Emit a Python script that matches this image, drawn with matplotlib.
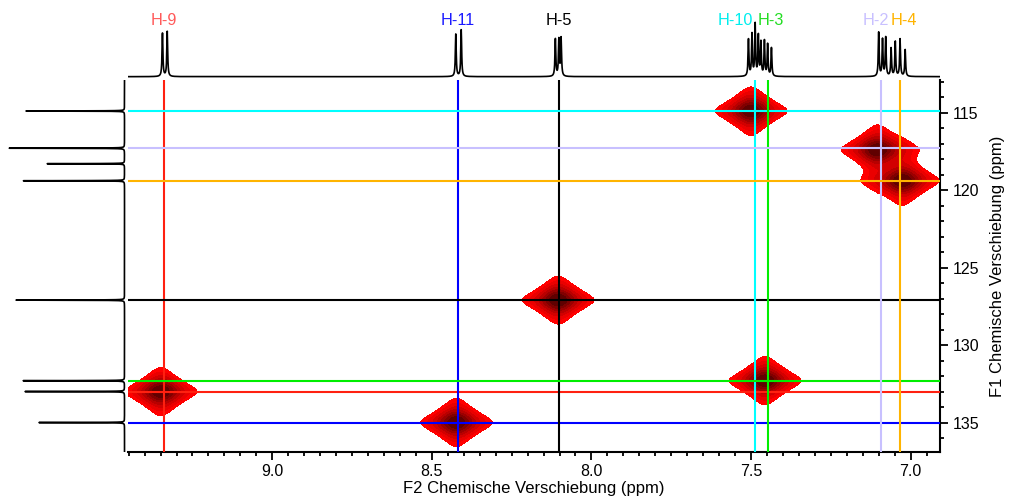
import numpy as np
import matplotlib
matplotlib.use("Agg")
import matplotlib.pyplot as plt
from matplotlib.ticker import MultipleLocator, FormatStrFormatter

plt.rcParams['font.family'] = ['Liberation Sans', 'DejaVu Sans']

# assignments: label, 1H shift (ppm), 13C shift (ppm), colour of the guide lines
labels = ["H-9", "H-11", "H-5", "H-10", "H-3", "H-2", "H-4"]
h_shift = [9.339, 8.419, 8.102, 7.487, 7.448, 7.093, 7.034]
c_shift = [133.0, 135.0, 127.1, 114.9, 132.3, 117.3, 119.4]
line_colors = ["#ff2010", "#0000ff", "#000000", "#00ffff", "#00ee00", "#c8c0ff", "#ffb400"]
label_colors = ["#ff5a5a", "#1a1aff", "#000000", "#00eeee", "#22dd22", "#c8c0ff", "#ffb400"]

# centres of the HSQC cross peaks
peak_h = [9.349, 8.423, 8.104, 7.500, 7.456, 7.104, 7.025]
peak_c = [133.0, 135.0, 127.1, 114.9, 132.3, 117.4, 119.4]

# 1H spectrum lines (ppm, relative height)
h_lines = [9.344, 9.329, 8.425, 8.408, 8.113, 8.102, 8.095,
           7.508, 7.497, 7.487, 7.477, 7.469, 7.458, 7.448, 7.436,
           7.100, 7.088, 7.078, 7.061, 7.048, 7.033, 7.017]
h_heights = [0.65, 0.675, 0.635, 0.70, 0.56, 0.55, 0.57,
             0.55, 0.625, 0.775, 0.60, 0.50, 0.525, 0.475, 0.425,
             0.66, 0.55, 0.58, 0.42, 0.52, 0.56, 0.40]

# 13C projection lines
c_lines = [114.9, 117.3, 118.3, 119.4, 127.1, 132.3, 133.0, 135.0]
c_heights = [0.849, 0.995, 0.668, 0.875, 0.944, 0.875, 0.858, 0.737]

XLIM = (9.452, 6.908)
YLIM = (136.9, 112.9)


def lorentz(x, x0, w):
    return 1.0 / (1.0 + ((x - x0) / w) ** 2)


def pvoigt(x, x0, w, eta=0.8):
    g = np.exp(-np.log(2) * ((x - x0) / w) ** 2)
    return eta * lorentz(x, x0, w) + (1 - eta) * g


fig = plt.figure(figsize=(10.09, 5.0), dpi=100)
ax = fig.add_axes([128 / 1009, 0.096, 812 / 1009, 0.744])
ax_top = fig.add_axes([128 / 1009, 0.84, 812 / 1009, 0.14])
ax_left = fig.add_axes([5 / 1009, 0.096, 123 / 1009, 0.744])

# 2D contour plot
xx = np.linspace(XLIM[1], XLIM[0], 1200)
yy = np.linspace(YLIM[1], YLIM[0], 700)
X, Y = np.meshgrid(xx, yy)
Z = np.zeros_like(X)
for ph, pc in zip(peak_h, peak_c):
    Z += pvoigt(X, ph, 0.042) * pvoigt(Y, pc, 0.58)
levels = [0.1, 0.15, 0.22, 0.31, 0.42, 0.55, 0.72, 100]
reds = ["#ff0000", "#ea0000", "#d20000", "#b80000", "#9c0000", "#800000", "#600000"]
ax.contourf(X, Y, Z, levels=levels, colors=reds, zorder=1)

for h, c, col in zip(h_shift, c_shift, line_colors):
    ax.axvline(h, color=col, lw=1.5, zorder=3)
    ax.axhline(c, color=col, lw=1.5, zorder=3)

ax.set_xlim(*XLIM)
ax.set_ylim(*YLIM)
ax.spines['top'].set_visible(False)
ax.spines['left'].set_visible(False)
ax.spines['bottom'].set_linewidth(1.5)
ax.spines['right'].set_linewidth(1.5)
ax.yaxis.tick_right()
ax.yaxis.set_label_position("right")
ax.xaxis.set_major_locator(MultipleLocator(0.5))
ax.xaxis.set_minor_locator(MultipleLocator(0.05))
ax.xaxis.set_major_formatter(FormatStrFormatter('%.1f'))
ax.yaxis.set_major_locator(MultipleLocator(5))
ax.yaxis.set_minor_locator(MultipleLocator(1))
ax.tick_params(which='major', direction='out', length=6, width=1.3, labelsize=11.5, pad=3)
ax.tick_params(which='minor', direction='out', length=3, width=1.3)
ax.set_xlabel("F2 Chemische Verschiebung (ppm)", fontsize=12, labelpad=1)
ax.set_ylabel("F1 Chemische Verschiebung (ppm)", fontsize=12, labelpad=8)

# 1H projection on top
hx = np.linspace(XLIM[1], XLIM[0], 12000)
hspec = np.zeros_like(hx)
for p, a in zip(h_lines, h_heights):
    hspec += a * lorentz(hx, p, 0.0016)
ax_top.plot(hx, hspec, color='black', lw=1.2)
ax_top.set_xlim(*XLIM)
ax_top.set_ylim(-0.05, 1.0)
ax_top.axis('off')
label_shift = [0.0, 0.0, 0.0, 0.063, -0.011, 0.017, -0.014]
for lab, h, dx, col in zip(labels, h_shift, label_shift, label_colors):
    ax_top.text(h + dx, 0.857, lab, color=col, fontsize=11.7, ha='center', va='center',
                transform=ax_top.get_xaxis_transform(), clip_on=False)

# 13C projection on the left
cy = np.linspace(YLIM[1], YLIM[0], 12000)
cspec = np.zeros_like(cy)
for p, a in zip(c_lines, c_heights):
    cspec += a * lorentz(cy, p, 0.008)
ax_left.plot(cspec, cy, color='black', lw=1.2)
ax_left.set_xlim(1.03, -0.03)
ax_left.set_ylim(*YLIM)
ax_left.axis('off')

fig.savefig("out.png", dpi=100)
